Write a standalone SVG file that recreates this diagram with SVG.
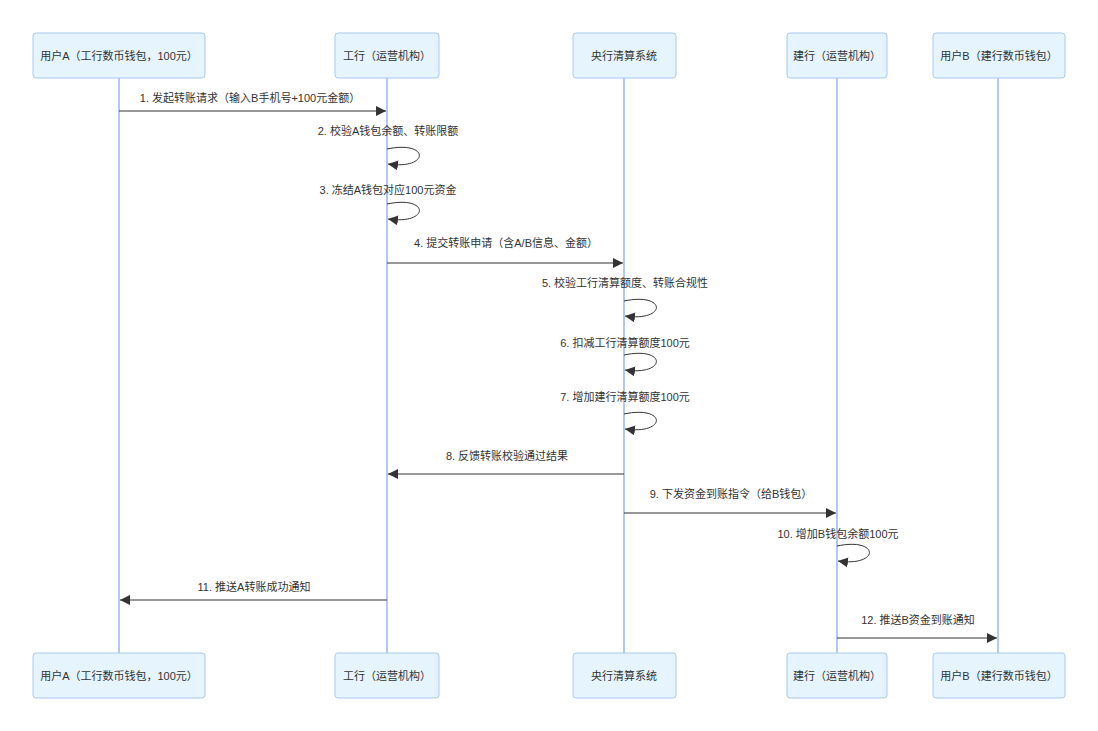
<svg xmlns="http://www.w3.org/2000/svg" width="1098" height="731" viewBox="0 0 1098 731">
<defs>
<style>
.actor{fill:#e6f4fd;stroke:#a9c9ef;stroke-width:1;}
.atext{font-family:"Liberation Sans","Noto Sans CJK SC",sans-serif;font-size:11px;fill:#333;text-anchor:middle;dominant-baseline:central;}
.life{stroke:#7fa4ea;stroke-width:1.2;}
.msg{stroke:#333;stroke-width:1;fill:none;}
.mtext{font-family:"Liberation Sans","Noto Sans CJK SC",sans-serif;font-size:11px;fill:#333;text-anchor:middle;}
</style>
<marker id="ah" viewBox="0 0 10 10" refX="10" refY="5" markerWidth="10" markerHeight="10" markerUnits="userSpaceOnUse" orient="auto">
<path d="M0,0 L10,5 L0,10 z" fill="#333"/>
</marker>
</defs>
<rect width="1098" height="731" fill="#fff"/>
<g id="lifelines">
<line class="life" x1="119" y1="78" x2="119" y2="653"/>
<line class="life" x1="387" y1="78" x2="387" y2="653"/>
<line class="life" x1="624" y1="78" x2="624" y2="653"/>
<line class="life" x1="837" y1="78" x2="837" y2="653"/>
<line class="life" x1="998" y1="78" x2="998" y2="653"/>
</g>
<g id="userA">
<rect class="actor" x="33" y="33" width="172" height="45" rx="3"/>
<text class="atext" x="119" y="56">用户A（工行数币钱包，100元）</text>
<rect class="actor" x="33" y="653" width="172" height="45" rx="3"/>
<text class="atext" x="119" y="676">用户A（工行数币钱包，100元）</text>
</g>
<g id="icbc">
<rect class="actor" x="335" y="33" width="104" height="45" rx="3"/>
<text class="atext" x="387" y="56">工行（运营机构）</text>
<rect class="actor" x="335" y="653" width="104" height="45" rx="3"/>
<text class="atext" x="387" y="676">工行（运营机构）</text>
</g>
<g id="pboc">
<rect class="actor" x="573" y="33" width="103" height="45" rx="3"/>
<text class="atext" x="624" y="56">央行清算系统</text>
<rect class="actor" x="573" y="653" width="103" height="45" rx="3"/>
<text class="atext" x="624" y="676">央行清算系统</text>
</g>
<g id="ccb">
<rect class="actor" x="787" y="33" width="100" height="45" rx="3"/>
<text class="atext" x="837" y="56">建行（运营机构）</text>
<rect class="actor" x="787" y="653" width="100" height="45" rx="3"/>
<text class="atext" x="837" y="676">建行（运营机构）</text>
</g>
<g id="userB">
<rect class="actor" x="933" y="33" width="132" height="45" rx="3"/>
<text class="atext" x="999" y="56">用户B（建行数币钱包）</text>
<rect class="actor" x="933" y="653" width="132" height="45" rx="3"/>
<text class="atext" x="999" y="676">用户B（建行数币钱包）</text>
</g>
<g id="connectors">
<text class="mtext" x="250" y="102">1. 发起转账请求（输入B手机号+100元金额）</text>
<line class="msg" x1="119" y1="111" x2="386" y2="111" marker-end="url(#ah)"/>
<text class="mtext" x="388" y="135">2. 校验A钱包余额、转账限额</text>
<path class="msg" d="M387,149 C430,140 430,170 388,164" marker-end="url(#ah)"/>
<text class="mtext" x="388" y="194">3. 冻结A钱包对应100元资金</text>
<path class="msg" d="M387,204 C430,195 430,225 388,219" marker-end="url(#ah)"/>
<text class="mtext" x="506" y="247">4. 提交转账申请（含A/B信息、金额）</text>
<line class="msg" x1="387" y1="263" x2="623" y2="263" marker-end="url(#ah)"/>
<text class="mtext" x="625" y="287">5. 校验工行清算额度、转账合规性</text>
<path class="msg" d="M624,301 C667,292 667,322 625,316" marker-end="url(#ah)"/>
<text class="mtext" x="625" y="347">6. 扣减工行清算额度100元</text>
<path class="msg" d="M624,355 C667,346 667,376 625,370" marker-end="url(#ah)"/>
<text class="mtext" x="625" y="401">7. 增加建行清算额度100元</text>
<path class="msg" d="M624,414 C667,405 667,435 625,429" marker-end="url(#ah)"/>
<text class="mtext" x="507" y="460">8. 反馈转账校验通过结果</text>
<line class="msg" x1="624" y1="474" x2="388" y2="474" marker-end="url(#ah)"/>
<text class="mtext" x="731" y="498">9. 下发资金到账指令（给B钱包）</text>
<line class="msg" x1="624" y1="513" x2="836" y2="513" marker-end="url(#ah)"/>
<text class="mtext" x="838" y="538">10. 增加B钱包余额100元</text>
<path class="msg" d="M837,546 C880,537 880,567 838,561" marker-end="url(#ah)"/>
<text class="mtext" x="254" y="591">11. 推送A转账成功通知</text>
<line class="msg" x1="387" y1="600" x2="120" y2="600" marker-end="url(#ah)"/>
<text class="mtext" x="918" y="624">12. 推送B资金到账通知</text>
<line class="msg" x1="837" y1="638" x2="997" y2="638" marker-end="url(#ah)"/>
</g>
</svg>
